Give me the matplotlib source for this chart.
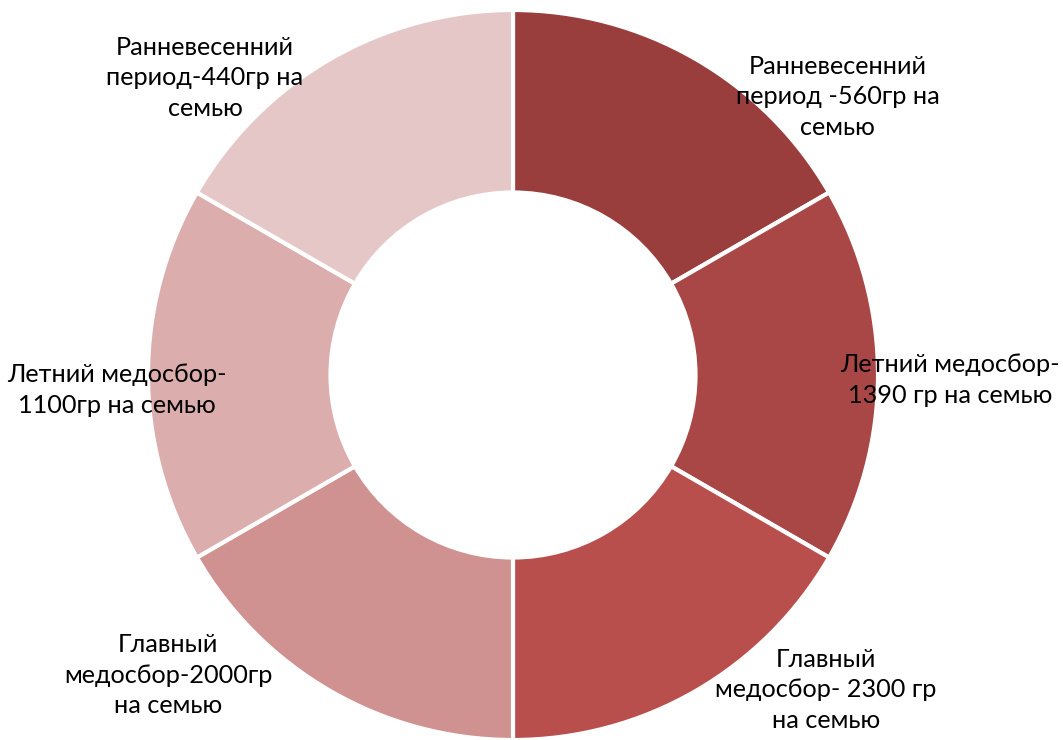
import matplotlib
matplotlib.use("Agg")
import matplotlib.pyplot as plt

# Honey-flow periods and the colony gain per period
periods = [
    "Ранневесенний\nпериод -560гр на\nсемью",
    "Летний медосбор-\n1390 гр на семью",
    "Главный\nмедосбор- 2300 гр\nна семью",
    "Главный\nмедосбор-2000гр\nна семью",
    "Летний медосбор-\n1100гр на семью",
    "Ранневесенний\nпериод-440гр на\nсемью",
]
shares = [1, 1, 1, 1, 1, 1]
colors = ["#9A3E3D", "#A84745", "#B94F4C", "#D09191", "#DBADAD", "#E6C7C7"]

# label anchor points in data units (pie radius = 1)
label_xy = [
    (0.890, 0.762),
    (1.197, -0.014),
    (0.858, -0.863),
    (-0.945, -0.822),
    (-1.085, -0.041),
    (-0.844, 0.814),
]

fig = plt.figure(figsize=(10.63, 7.40), dpi=100)
ax = fig.add_axes([0, 0, 1, 1])
ax.pie(shares, colors=colors, startangle=90, counterclock=False, radius=1.0,
       wedgeprops=dict(width=0.5, edgecolor="white", linewidth=3))
for text, (x, y) in zip(periods, label_xy):
    ax.text(x, y, text, ha="center", va="center", fontsize=18.2, family="Lato",
            color="#000000", linespacing=1.38)
ax.set_xlim(-513 / 365, (1063 - 513) / 365)
ax.set_ylim(-1.0, 375 / 365)
ax.set_aspect("equal")
ax.axis("off")
fig.savefig("out.png", dpi=100)
